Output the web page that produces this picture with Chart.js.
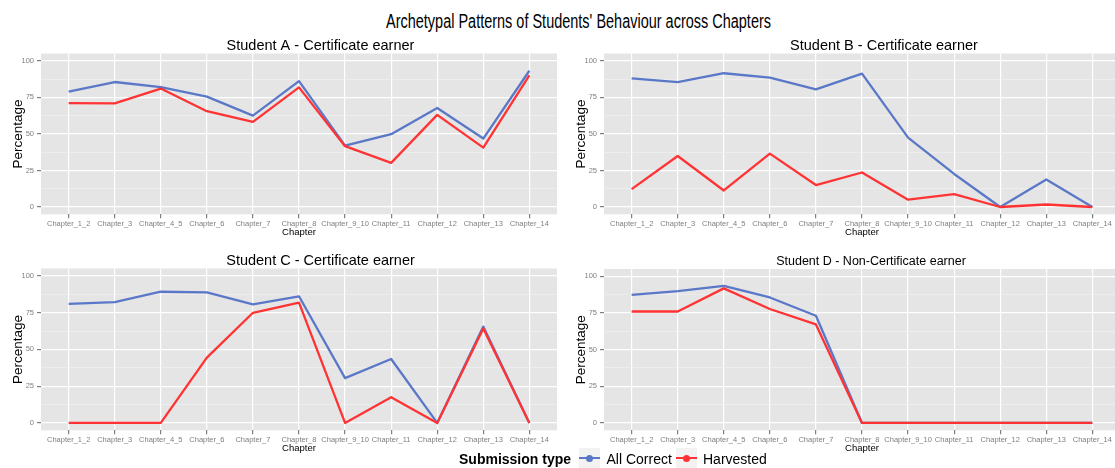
<!DOCTYPE html>
<html>
<head>
<meta charset="utf-8">
<script src="https://cdn.jsdelivr.net/npm/chart.js@4"></script>
<style>
  html, body { margin: 0; padding: 0; background: #fff; }
  body { position: relative; width: 1115px; height: 468px; overflow: hidden; font-family: "Liberation Sans", Arial, sans-serif; }
  canvas { position: absolute; }
  #mainTitle { position: absolute; left: 386px; top: 11px; font-family: "Liberation Sans Narrow", "Liberation Sans", Arial, sans-serif;
    font-size: 20px; line-height: 20px; white-space: nowrap; display: inline-block; transform-origin: 0 0; color: #000; }
  .legtxt { position: absolute; top: 452px; font-size: 14px; line-height: 14px; white-space: nowrap; color: #000; }
  .key { position: absolute; top: 447.5px; width: 21px; height: 21px; background: #f2f2f2; }
  .key .ln { position: absolute; left: 0; right: 0; top: 9.4px; height: 2.2px; }
  .key .dt { position: absolute; left: 7px; top: 7px; width: 7px; height: 7px; border-radius: 50%; }
</style>
</head>
<body>
<div id="mainTitle">Archetypal Patterns of Students' Behaviour across Chapters</div>

<canvas id="chartA" width="641" height="200" style="left:0px;top:39px;width:641px;height:200px"></canvas>
<canvas id="chartB" width="642" height="200" style="left:563px;top:39px;width:642px;height:200px"></canvas>
<canvas id="chartC" width="641" height="201" style="left:0px;top:254px;width:641px;height:201px"></canvas>
<canvas id="chartD" width="616" height="200" style="left:563px;top:255px;width:616px;height:200px"></canvas>

<div class="legtxt" style="left:459px;font-weight:bold">Submission type</div>
<div class="key" style="left:579px"><div class="ln" id="k1l"></div><div class="dt" id="k1d"></div></div>
<div class="legtxt" style="left:606.5px">All Correct</div>
<div class="key" style="left:676px"><div class="ln" id="k2l"></div><div class="dt" id="k2d"></div></div>
<div class="legtxt" style="left:703px">Harvested</div>

<script>
const chapters = ['Chapter_1_2', 'Chapter_3', 'Chapter_4_5', 'Chapter_6', 'Chapter_7', 'Chapter_8',
                  'Chapter_9_10', 'Chapter_11', 'Chapter_12', 'Chapter_13', 'Chapter_14'];
const yTicks = [0, 25, 50, 75, 100];
const yMinor = [12.5, 37.5, 62.5, 87.5];

const studentA_allCorrect = [78.9, 85.5, 82.0, 75.5, 62.5, 86.1, 42.0, 49.8, 67.7, 46.8, 93.2];
const studentA_harvested  = [71.1, 70.9, 81.0, 65.5, 58.2, 81.8, 41.6, 30.2, 63.0, 40.6, 90.0];
const studentB_allCorrect = [88.0, 85.4, 91.5, 88.5, 80.4, 91.2, 47.4, 22.6, 0, 18.8, 0];
const studentB_harvested  = [12.2, 34.9, 11.3, 36.5, 15.0, 23.6, 5.0, 8.8, 0, 1.7, 0];
const studentC_allCorrect = [81.0, 82.1, 89.2, 88.8, 80.6, 86.1, 30.5, 43.5, 0, 65.5, 0];
const studentC_harvested  = [0, 0, 0, 44.4, 74.9, 81.8, 0, 17.5, 0, 64.2, 0];
const studentD_allCorrect = [87.4, 89.9, 93.5, 85.6, 73.1, 0, 0, 0, 0, 0, 0];
const studentD_harvested  = [76.0, 76.0, 91.8, 77.7, 67.2, 0, 0, 0, 0, 0, 0];

const BLUE = '#5b78c8';
const RED = '#ff3333';
const FONT = '"Liberation Sans", Arial, sans-serif';

document.getElementById('k1l').style.background = BLUE;
document.getElementById('k1d').style.background = BLUE;
document.getElementById('k2l').style.background = RED;
document.getElementById('k2d').style.background = RED;

// grey panel behind the lines, like ggplot
const panelBg = {
    id: 'panelBg',
    beforeDraw(chart) {
        const a = chart.chartArea;
        const ctx = chart.ctx;
        ctx.save();
        ctx.fillStyle = '#e5e5e5';
        ctx.fillRect(a.left, a.top, a.right - a.left, a.bottom - a.top);
        ctx.restore();
    }
};

function toPoints(values) {
    return values.map((v, i) => ({ x: i, y: v }));
}

function makePanel(id, title, titleSize, titlePad, spacer, allCorrect, harvested) {
    const ctx = document.getElementById(id).getContext('2d');
    return new Chart(ctx, {
        type: 'line',
        data: {
            datasets: [
                { label: 'Harvested', data: toPoints(harvested), borderColor: RED, borderWidth: 2.3,
                  pointRadius: 0, tension: 0, borderJoinStyle: 'round', order: 0 },
                { label: 'All Correct', data: toPoints(allCorrect), borderColor: BLUE, borderWidth: 2.3,
                  pointRadius: 0, tension: 0, borderJoinStyle: 'round', order: 1 }
            ]
        },
        options: {
            responsive: false,
            animation: false,
            events: [],
            layout: { padding: 0 },
            plugins: {
                legend: { display: false },
                tooltip: { enabled: false },
                title: {
                    display: true, text: title, color: '#000',
                    font: { family: FONT, size: titleSize, weight: 'normal', lineHeight: 1 },
                    padding: { top: 0, bottom: titlePad }
                }
            },
            scales: {
                x: {
                    type: 'linear', min: -0.6, max: 10.6,
                    afterBuildTicks: s => { s.ticks = chapters.map((c, i) => ({ value: i })); },
                    ticks: {
                        callback: v => chapters[v],
                        font: { family: FONT, size: 7.5 }, color: '#7f7f7f',
                        maxRotation: 0, minRotation: 0, autoSkip: false, padding: 1
                    },
                    grid: { color: '#ffffff', lineWidth: 1.2, tickLength: 4, tickColor: '#7f7f7f' },
                    border: { display: false },
                    title: { display: true, text: 'Chapter', color: '#000',
                             font: { family: FONT, size: 9.5 }, padding: { top: 0, bottom: 0.8 } },
                    afterFit: s => { s.height = 24.7; }
                },
                y: {
                    type: 'linear', min: -5, max: 105,
                    afterBuildTicks: s => {
                        s.ticks = yTicks.concat(yMinor).sort((a, b) => a - b).map(v => ({ value: v }));
                    },
                    ticks: {
                        callback: v => yTicks.includes(v) ? String(v) : '',
                        font: { family: FONT, size: 7.5 }, color: '#7f7f7f', padding: 3
                    },
                    grid: {
                        color: c => yTicks.includes(c.tick.value) ? '#ffffff' : '#f2f2f2',
                        lineWidth: c => yTicks.includes(c.tick.value) ? 1.2 : 0.6,
                        tickColor: c => yTicks.includes(c.tick.value) ? '#7f7f7f' : 'rgba(0,0,0,0)',
                        tickLength: 4
                    },
                    border: { display: false },
                    title: { display: true, text: 'Percentage', color: '#000',
                             font: { family: FONT, size: 13.5 }, padding: { top: 10, bottom: 0 } },
                    afterFit: s => { s.width = 41; }
                },
                // empty right-hand axis, only there to push the panel title to the right like in ggplot
                pad: {
                    type: 'linear', position: 'right', display: true,
                    ticks: { display: false }, grid: { display: false }, border: { display: false },
                    afterFit: s => { s.width = spacer; }
                }
            }
        },
        plugins: [panelBg]
    });
}

makePanel('chartA', 'Student A - Certificate earner', 14.5, 0, 84, studentA_allCorrect, studentA_harvested);
makePanel('chartB', 'Student B - Certificate earner', 14.5, 0, 85, studentB_allCorrect, studentB_harvested);
makePanel('chartC', 'Student C - Certificate earner', 14.5, 0, 84, studentC_allCorrect, studentC_harvested);
makePanel('chartD', 'Student D - Non-Certificate earner', 12.5, 1.5, 59, studentD_allCorrect, studentD_harvested);

// squeeze the main title to the narrow width of the original
const mt = document.getElementById('mainTitle');
const w = mt.getBoundingClientRect().width;
mt.style.transform = 'scaleX(' + (385 / w) + ')';
</script>
</body>
</html>
